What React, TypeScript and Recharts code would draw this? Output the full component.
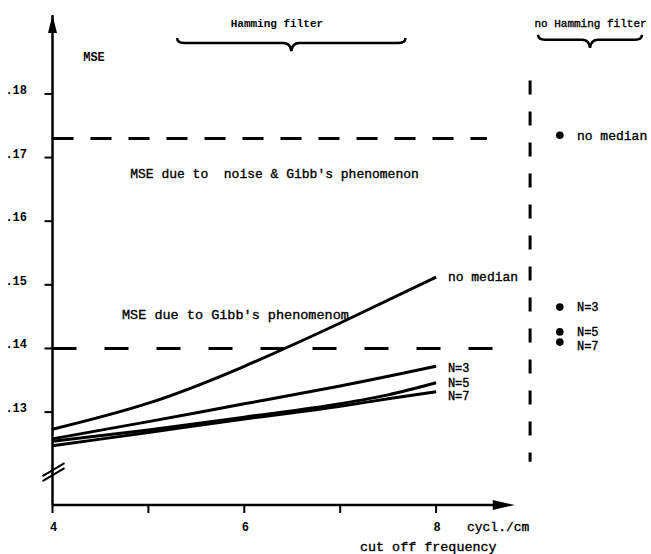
import React from 'react';
import { ComposedChart, Line, Scatter, XAxis, YAxis, ReferenceLine, ReferenceDot } from 'recharts';

// ---- data ----
const freqTicks = [4, 5, 6, 7, 8];
const freqTickLabels = ['4', '', '6', '', '8'];
const mseTicks = [0.13, 0.14, 0.15, 0.16, 0.17, 0.18];
const mseTickLabels = ['.13', '.14', '.15', '.16', '.17', '.18'];

const noMedianFreq = [4, 5, 6, 7, 8];
const noMedianMse = [0.1273, 0.1314, 0.1372, 0.144, 0.1512];
const n3Freq = [4, 5, 6, 7, 8];
const n3Mse = [0.1258, 0.1285, 0.1313, 0.1341, 0.1372];
const n5Freq = [4, 5, 6, 7, 7.5, 8];
const n5Mse = [0.1254, 0.1272, 0.1292, 0.1313, 0.1327, 0.1346];
const n7Freq = [4, 5, 6, 7, 7.5, 8];
const n7Mse = [0.1247, 0.1268, 0.1289, 0.1309, 0.1321, 0.1332];

const seriesNames = ['no median', 'N=3', 'N=5', 'N=7'];
const noHammingFreq = 9.29;
const noHammingMse = [0.1735, 0.1465, 0.1426, 0.141];

const noiseGibbsLevel = 0.173;
const gibbsLevel = 0.14;

// axis ranges
const freqDomain = [4, 10];
const mseDomain = [0.1154, 0.1924];

const toRows = (xs: number[], ys: number[]) => xs.map((x, i) => ({ x, y: ys[i] }));
const noMedianRows = toRows(noMedianFreq, noMedianMse);
const n3Rows = toRows(n3Freq, n3Mse);
const n5Rows = toRows(n5Freq, n5Mse);
const n7Rows = toRows(n7Freq, n7Mse);
const noHammingRows = noHammingMse.map((y) => ({ x: noHammingFreq, y }));

const FONT = '"Liberation Mono", "Courier New", monospace';

// annotation anchors (data coordinates)
const annotations = [
  { text: 'MSE', x: 4.32, y: 0.1852, size: 12, bold: true, anchor: 'start' },
  { text: 'Hamming filter', x: 6.34, y: 0.1905, size: 11, bold: true, anchor: 'middle' },
  { text: 'no Hamming filter', x: 9.61, y: 0.1905, size: 11, bold: false, anchor: 'middle' },
  { text: "MSE due to  noise & Gibb's phenomenon", x: 4.81, y: 0.1668, size: 13, bold: false, anchor: 'start' },
  { text: "MSE due to Gibb's phenomenom", x: 4.725, y: 0.1446, size: 13.5, bold: false, anchor: 'start' },
  { text: 'no median', x: 8.123, y: 0.1506, size: 13, bold: false, anchor: 'start' },
  { text: 'N=3', x: 8.123, y: 0.1363, size: 12, bold: false, anchor: 'start' },
  { text: 'N=5', x: 8.123, y: 0.1339, size: 12, bold: false, anchor: 'start' },
  { text: 'N=7', x: 8.123, y: 0.1319, size: 12, bold: false, anchor: 'start' },
  { text: 'no median', x: 9.469, y: 0.1728, size: 13, bold: false, anchor: 'start' },
  { text: 'N=3', x: 9.469, y: 0.1459, size: 12, bold: false, anchor: 'start' },
  { text: 'N=5', x: 9.469, y: 0.142, size: 12, bold: false, anchor: 'start' },
  { text: 'N=7', x: 9.469, y: 0.1398, size: 12, bold: false, anchor: 'start' },
  { text: 'cycl./cm', x: 8.322, y: 0.1113, size: 13, bold: false, anchor: 'start' },
  { text: 'cut off frequency', x: 7.206, y: 0.1082, size: 13.4, bold: false, anchor: 'start' },
];

const braces = [
  { x1: 5.3, x2: 7.68, y: 0.188 },
  { x1: 9.063, x2: 10.147, y: 0.1885 },
];

const YTick = (p: any) => {
  const i = mseTicks.findIndex((t) => Math.abs(t - p.payload.value) < 1e-9);
  return (
    <text x={p.x} y={p.y} textAnchor="end" fontFamily={FONT} fontSize={12} fontWeight="bold" fill="#000">
      {i >= 0 ? mseTickLabels[i] : ''}
    </text>
  );
};

const XTick = (p: any) => {
  const i = freqTicks.findIndex((t) => Math.abs(t - p.payload.value) < 1e-9);
  return (
    <text x={p.x + 1} y={p.y} textAnchor="middle" fontFamily={FONT} fontSize={12} fontWeight="bold" fill="#000">
      {i >= 0 ? freqTickLabels[i] : ''}
    </text>
  );
};

const braceShape = (p: any) => {
  const x1 = Math.min(p.x1, p.x2);
  const x2 = Math.max(p.x1, p.x2);
  const y = p.y1;
  const m = (x1 + x2) / 2;
  const d = `M ${x1} ${y - 5} Q ${x1} ${y} ${x1 + 7} ${y} L ${m - 8} ${y} Q ${m - 1} ${y} ${m} ${y + 8} Q ${m + 1} ${y} ${m + 8} ${y} L ${x2 - 7} ${y} Q ${x2} ${y} ${x2} ${y - 5}`;
  return <path d={d} fill="none" stroke="#000" strokeWidth={2.5} />;
};

const dotShape = (p: any) => <circle cx={p.cx} cy={p.cy} r={3.8} fill="#000" />;

export default function App() {
  return (
    <div style={{ position: 'absolute', left: 0, top: 0, background: '#fff' }}>
      <ComposedChart
        width={651}
        height={554}
        margin={{ top: 15, right: 23.1, bottom: 48, left: 51.5 }}
      >
        <XAxis
          type="number"
          dataKey="x"
          domain={freqDomain}
          ticks={freqTicks}
          allowDataOverflow
          height={1}
          axisLine={false}
          tickLine={{ stroke: '#000', strokeWidth: 2 }}
          tickSize={8}
          tickMargin={18}
          tick={<XTick />}
          interval={0}
        />
        <YAxis
          type="number"
          dataKey="y"
          domain={mseDomain}
          ticks={mseTicks}
          allowDataOverflow
          width={1}
          axisLine={{ stroke: '#000', strokeWidth: 2.5 }}
          tickLine={{ stroke: '#000', strokeWidth: 2 }}
          tickSize={8}
          tickMargin={17.5}
          tick={<YTick />}
          interval={0}
        />

        {/* x axis line + arrows */}
        <ReferenceLine
          segment={[{ x: 4, y: mseDomain[0] }, { x: 8.6, y: mseDomain[0] }]}
          stroke="#000"
          strokeWidth={2.5}
          ifOverflow="visible"
        />
        <ReferenceDot
          x={8.82}
          y={mseDomain[0]}
          ifOverflow="visible"
          shape={(p: any) => (
            <polygon points={`${p.cx},${p.cy} ${p.cx - 22},${p.cy - 5} ${p.cx - 22},${p.cy + 5}`} fill="#000" />
          )}
        />
        <ReferenceDot
          x={4}
          y={mseDomain[1]}
          ifOverflow="visible"
          shape={(p: any) => (
            <polygon points={`${p.cx},${p.cy} ${p.cx - 4.5},${p.cy + 18} ${p.cx + 4.5},${p.cy + 18}`} fill="#000" />
          )}
        />
        {/* axis break */}
        <ReferenceDot
          x={4}
          y={0.1204}
          ifOverflow="visible"
          shape={(p: any) => (
            <g stroke="#000" strokeWidth={2}>
              <line x1={p.cx - 10} y1={p.cy + 8} x2={p.cx + 12} y2={p.cy - 5} />
              <line x1={p.cx - 10} y1={p.cy + 3} x2={p.cx + 12} y2={p.cy - 10} />
            </g>
          )}
        />

        {/* dashed reference levels */}
        <ReferenceLine
          segment={[{ x: 4, y: noiseGibbsLevel }, { x: 8.53, y: noiseGibbsLevel }]}
          stroke="#000"
          strokeWidth={3}
          strokeDasharray="21 17"
          ifOverflow="visible"
        />
        <ReferenceLine
          segment={[{ x: 4, y: gibbsLevel }, { x: 8.75, y: gibbsLevel }]}
          stroke="#000"
          strokeWidth={3}
          strokeDasharray="24 28"
          ifOverflow="visible"
        />
        <ReferenceLine
          segment={[{ x: 8.98, y: 0.1821 }, { x: 8.98, y: 0.1222 }]}
          stroke="#000"
          strokeWidth={3}
          strokeDasharray="14 17"
          ifOverflow="visible"
        />

        {/* braces */}
        {braces.map((b, i) => (
          <ReferenceLine
            key={'b' + i}
            segment={[{ x: b.x1, y: b.y }, { x: b.x2, y: b.y }]}
            ifOverflow="visible"
            shape={braceShape}
          />
        ))}

        {/* curves */}
        <Line data={noMedianRows} dataKey="y" type="natural" stroke="#000" strokeWidth={3} dot={false} isAnimationActive={false} name={seriesNames[0]} />
        <Line data={n3Rows} dataKey="y" type="natural" stroke="#000" strokeWidth={3} dot={false} isAnimationActive={false} name={seriesNames[1]} />
        <Line data={n5Rows} dataKey="y" type="monotone" stroke="#000" strokeWidth={3} dot={false} isAnimationActive={false} name={seriesNames[2]} />
        <Line data={n7Rows} dataKey="y" type="monotone" stroke="#000" strokeWidth={3} dot={false} isAnimationActive={false} name={seriesNames[3]} />

        {/* no Hamming filter points */}
        <Scatter data={noHammingRows} dataKey="y" fill="#000" shape={dotShape} isAnimationActive={false} />

        {/* annotations */}
        {annotations.map((a, i) => (
          <ReferenceDot
            key={'a' + i}
            x={a.x}
            y={a.y}
            ifOverflow="visible"
            shape={(p: any) => (
              <text
                x={p.cx}
                y={p.cy}
                textAnchor={a.anchor as any}
                fontFamily={FONT}
                fontSize={a.size}
                fontWeight={a.bold ? 'bold' : 'normal'}
                fill="#000"
                stroke="#000"
                strokeWidth={a.bold ? 0 : 0.35}
                style={{ whiteSpace: 'pre' }}
              >
                {a.text}
              </text>
            )}
          />
        ))}
      </ComposedChart>
    </div>
  );
}
